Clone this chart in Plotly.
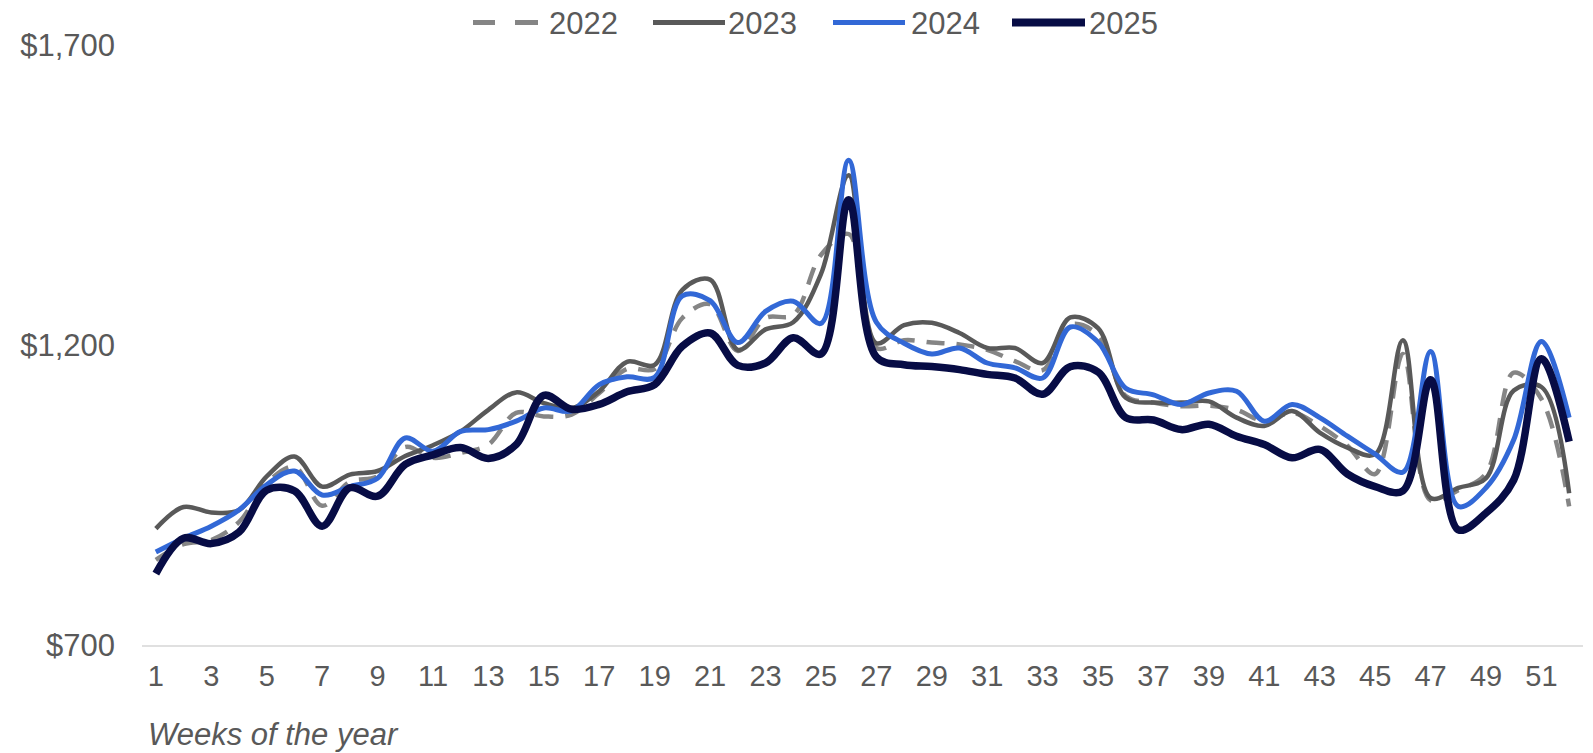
import plotly.graph_objects as go

# ---- data -------------------------------------------------------------
weeks = list(range(1, 53))

sales_2022 = [842, 868, 875, 905, 970, 997, 932, 972, 981, 1030,
              1012, 1020, 1034, 1087, 1081, 1084, 1120, 1160, 1160, 1245,
              1268, 1190, 1245, 1250, 1350, 1385, 1195, 1208, 1204, 1201,
              1192, 1173, 1158, 1234, 1217, 1115, 1104, 1098, 1099, 1092,
              1073, 1087, 1065, 1032, 985, 1185, 941, 958, 986, 1154,
              1110, 931]

sales_2023 = [894, 930, 921, 925, 981, 1014, 964, 984, 990, 1015,
              1033, 1056, 1092, 1121, 1103, 1095, 1123, 1172, 1167, 1292,
              1309, 1192, 1226, 1238, 1318, 1483, 1203, 1233, 1237, 1220,
              1195, 1195, 1170, 1246, 1228, 1112, 1104, 1104, 1106, 1079,
              1065, 1090, 1054, 1029, 1018, 1208, 945, 962, 978, 1124,
              1130, 953]

sales_2024 = [855, 878, 898, 925, 967, 990, 950, 964, 978, 1045,
              1023, 1056, 1059, 1073, 1095, 1090, 1134, 1147, 1146, 1282,
              1274, 1204, 1256, 1273, 1236, 1508, 1238, 1203, 1185, 1195,
              1170, 1162, 1145, 1230, 1205, 1128, 1117, 1101, 1120, 1123,
              1073, 1101, 1079, 1048, 1018, 988, 1189, 931, 962, 1042,
              1206, 1079]

sales_2025 = [819, 878, 869, 888, 958, 957, 898, 962, 948, 1001,
              1017, 1029, 1011, 1034, 1116, 1093, 1101, 1122, 1134, 1198,
              1220, 1166, 1170, 1212, 1185, 1442, 1180, 1167, 1164, 1159,
              1151, 1145, 1118, 1164, 1155, 1079, 1075, 1059, 1068, 1048,
              1034, 1012, 1026, 985, 964, 957, 1142, 892, 920, 975,
              1177, 1039]

x_tick_values = list(range(1, 52, 2))
x_tick_labels = [str(v) for v in x_tick_values]
y_tick_values = [700, 1200, 1700]
y_tick_labels = ["$700", "$1,200", "$1,700"]

# ---- figure geometry ----------------------------------------------------
W, H = 1593, 753
L, R, T, B = 142, 10, 45, 108
TEXT = "#595959"
FONT = "Liberation Sans, Arial, sans-serif"


def fx(px):
    """pixel x -> paper x"""
    return (px - L) / (W - L - R)


def fy(py):
    """pixel y -> paper y"""
    return (H - B - py) / (H - T - B)


series = [
    ("2022", sales_2022, "#858585", 4.5, "18px,12px"),
    ("2023", sales_2023, "#595959", 4.5, "solid"),
    ("2024", sales_2024, "#3268D6", 5, "solid"),
    ("2025", sales_2025, "#070C45", 7.5, "solid"),
]

fig = go.Figure()
for name, vals, color, width, dash in series:
    fig.add_trace(go.Scatter(
        x=weeks, y=vals, name=name, mode="lines",
        line=dict(color=color, width=width, dash=dash,
                  shape="spline", smoothing=1),
        showlegend=False,
        hovertemplate="Week %{x}: $%{y:,}<extra>" + name + "</extra>",
    ))

# ---- custom legend across the top -----------------------------------------
shapes = []
annotations = []
legend_y = 22.5
legend_items = [
    # name, segments (px), text left (px), color, width
    ("2022", [(473, 495), (515, 538)], 547, "#858585", 5),
    ("2023", [(653, 725)], 726, "#595959", 5),
    ("2024", [(833, 905)], 909, "#3268D6", 5),
    ("2025", [(1012, 1085)], 1087, "#070C45", 8),
]
for name, segs, tx, color, lw in legend_items:
    for x0, x1 in segs:
        shapes.append(dict(type="line", xref="paper", yref="paper",
                           x0=fx(x0), x1=fx(x1),
                           y0=fy(legend_y), y1=fy(legend_y),
                           line=dict(color=color, width=lw)))
    annotations.append(dict(text=name, xref="paper", yref="paper",
                            x=fx(tx), y=fy(legend_y + 1),
                            xanchor="left", yanchor="middle",
                            showarrow=False,
                            font=dict(family=FONT, size=31, color=TEXT)))

# axis title
annotations.append(dict(text="<i>Weeks of the year</i>", xref="paper",
                        yref="paper", x=fx(146), y=fy(734),
                        xanchor="left", yanchor="middle", showarrow=False,
                        font=dict(family=FONT, size=31, color=TEXT)))

fig.update_layout(
    width=W, height=H,
    margin=dict(l=L, r=R, t=T, b=B, pad=0),
    paper_bgcolor="white", plot_bgcolor="white",
    shapes=shapes, annotations=annotations,
    xaxis=dict(range=[0.5, 52.5], tickmode="array",
               tickvals=x_tick_values, ticktext=x_tick_labels,
               showgrid=False, zeroline=False, ticks="",
               showline=True, linecolor="#E0E0E0", linewidth=2,
               tickfont=dict(family=FONT, size=29, color=TEXT),
               ticklabelstandoff=4),
    yaxis=dict(range=[700, 1700], tickmode="array", tickvals=y_tick_values,
               ticktext=y_tick_labels,
               showgrid=False, zeroline=False, showline=False, ticks="",
               tickfont=dict(family=FONT, size=31, color=TEXT),
               ticklabelstandoff=26),
    hovermode="closest",
)

fig.write_html("out.html")
